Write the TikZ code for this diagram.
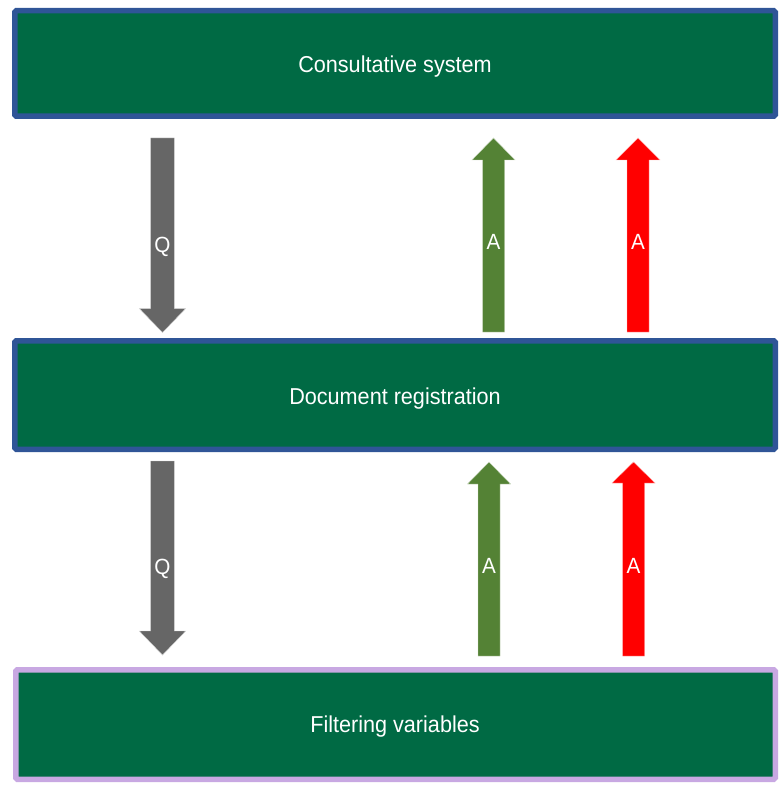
\documentclass[tikz,border=0pt]{standalone}
\usepackage{fontspec}
\setmainfont[FakeStretch=0.94]{Liberation Sans}
\definecolor{boxgreen}{RGB}{0,106,68}
\definecolor{boxblue}{RGB}{47,85,151}
\definecolor{lavender}{RGB}{200,168,226}
\definecolor{arrgray}{RGB}{102,102,102}
\definecolor{arrgreen}{RGB}{84,130,53}
\definecolor{arrred}{RGB}{255,0,0}
\tikzset{
  layerbox/.style={fill=boxgreen, line width=5.5pt, rounded corners=1.5pt},
  boxtext/.style={text=white, font=\fontsize{23}{27}\selectfont, inner sep=0pt},
  arrtext/.style={text=white, font=\fontsize{22}{26}\selectfont, inner sep=0pt},
}
% \blockarr{color}{cx}{tail y}{tip y}{shaft half}{head half}{head len}
\newcommand\blockarr[7]{%
  \pgfmathsetmacro\dirsign{(#4>#3)?1:-1}%
  \pgfmathsetmacro\hb{#4-\dirsign*#7}%
  \fill[#1, draw=white!70!#1, line width=0.4pt]
    (#2-#5,#3) -- (#2-#5,\hb) -- (#2-#6,\hb) -- (#2,#4) -- (#2+#6,\hb)
    -- (#2+#5,\hb) -- (#2+#5,#3) -- cycle;
}
\begin{document}
\begin{tikzpicture}[x=1pt,y=-1pt]
\useasboundingbox (0,0) rectangle (782,786);

% boxes
\draw[layerbox, draw=boxblue] (14.75,10.75) rectangle (775.25,116.25);
\node[boxtext] (cons) at (395,67) {Consultative system};
\draw[layerbox, draw=boxblue] (14.75,340.75) rectangle (775.25,449.25);
\node[boxtext] (doc) at (395,399) {Document registration};
\draw[layerbox, draw=lavender] (15.75,669.75) rectangle (775.25,779.25);
\node[boxtext] (filt) at (395,727) {Filtering variables};

% row 1 arrows
\blockarr{arrgray}{162.5}{138}{332.5}{11.8}{23.2}{24}
\node[arrtext] (q1) at (162.5,247) {Q};
\blockarr{arrgreen}{493.5}{332}{138}{11}{21.5}{22}
\node[arrtext] (a1) at (493.5,242) {A};
\blockarr{arrred}{638}{332}{138}{11}{22}{22}
\node[arrtext] (a2) at (638,242) {A};

% row 2 arrows
\blockarr{arrgray}{162.5}{461}{655}{11.8}{23.2}{24}
\node[arrtext] (q2) at (162.5,569) {Q};
\blockarr{arrgreen}{489}{656}{462}{11}{21.5}{22}
\node[arrtext] (a3) at (489,566) {A};
\blockarr{arrred}{633.5}{656}{462}{11}{21.5}{21}
\node[arrtext] (a4) at (633.5,566) {A};
\end{tikzpicture}
\end{document}
